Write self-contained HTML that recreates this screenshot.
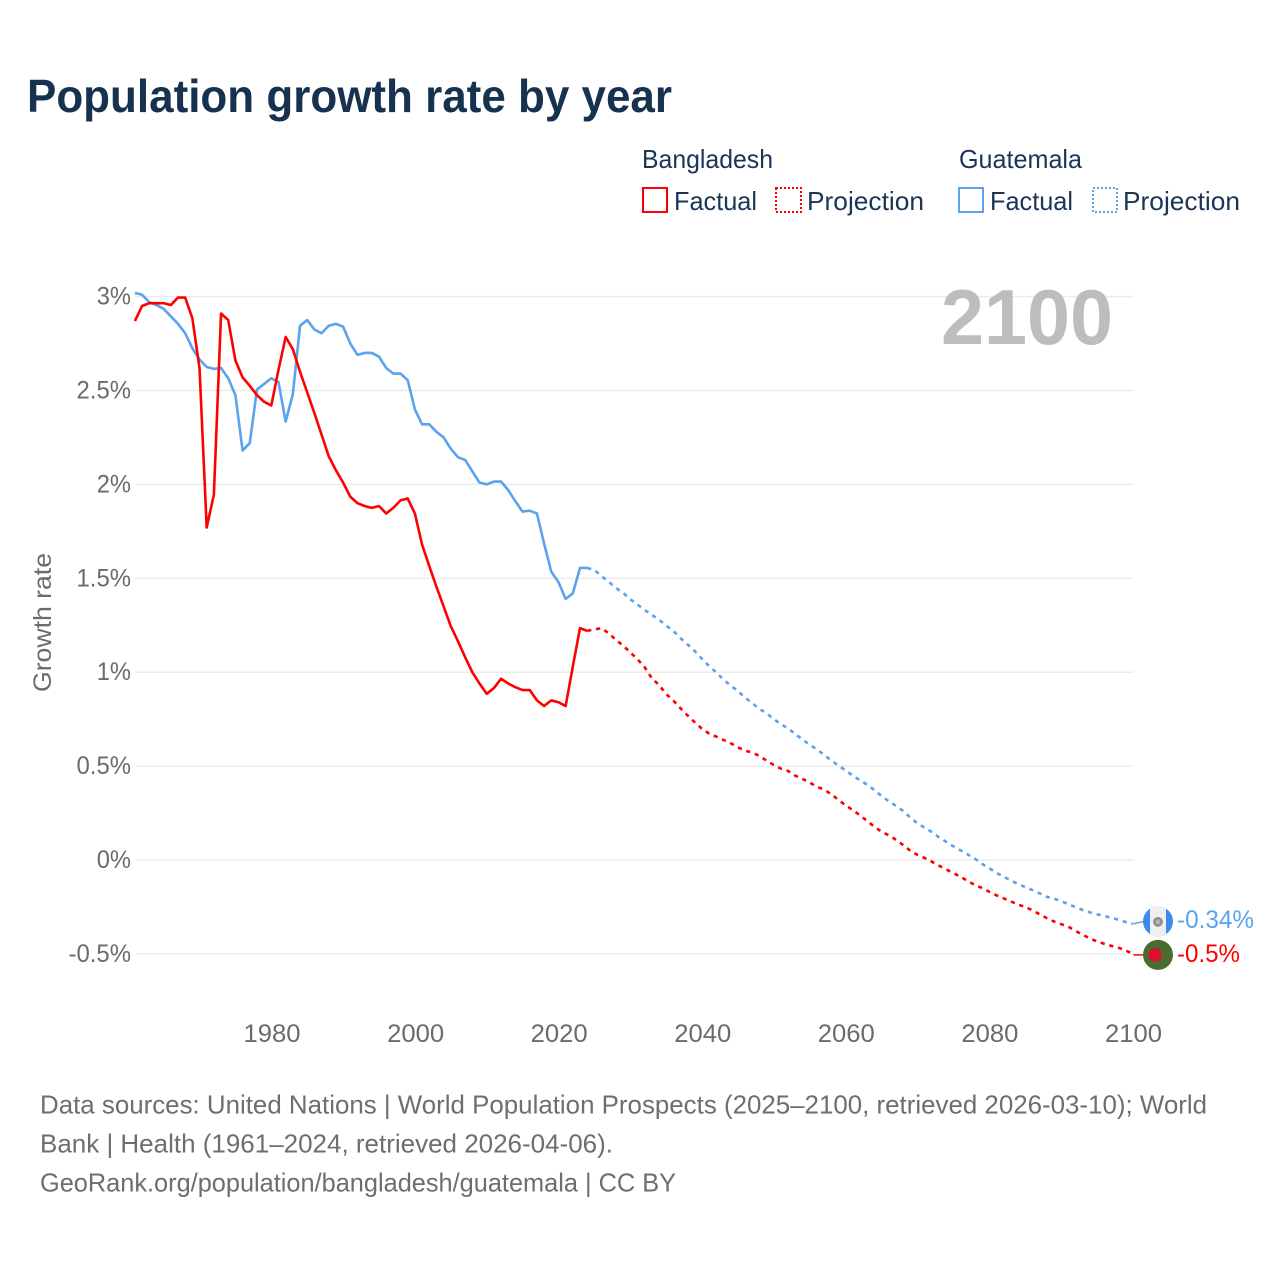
<!DOCTYPE html>
<html lang="en">
<head>
<meta charset="utf-8">
<title>Population growth rate by year</title>
<style>
html,body{margin:0;padding:0;background:#fff;}
svg{display:block;}
text{font-family:"Liberation Sans",sans-serif;}
</style>
</head>
<body>
<svg id="chart" width="1280" height="1280" viewBox="0 0 1280 1280" xmlns="http://www.w3.org/2000/svg">
  <rect x="0" y="0" width="1280" height="1280" fill="#ffffff"/>
  <text x="27" y="112" font-size="46" font-weight="700" fill="#17324f" textLength="645" lengthAdjust="spacingAndGlyphs">Population growth rate by year</text>

  <g font-size="26" fill="#1b3557">
    <text x="642" y="168" textLength="131" lengthAdjust="spacingAndGlyphs">Bangladesh</text>
    <text x="959" y="168" textLength="123" lengthAdjust="spacingAndGlyphs">Guatemala</text>
    <g>
      <rect x="643" y="188" width="24" height="24" fill="none" stroke="#ff0000" stroke-width="2"/>
      <text x="674" y="210" textLength="83" lengthAdjust="spacingAndGlyphs">Factual</text>
    </g>
    <g>
      <rect x="776" y="188" width="25" height="24" fill="none" stroke="#ff0000" stroke-width="2" stroke-dasharray="2 2"/>
      <text x="807" y="210" textLength="117" lengthAdjust="spacingAndGlyphs">Projection</text>
    </g>
    <g>
      <rect x="959" y="188" width="24" height="24" fill="none" stroke="#5ba3ee" stroke-width="2"/>
      <text x="990" y="210" textLength="83" lengthAdjust="spacingAndGlyphs">Factual</text>
    </g>
    <g>
      <rect x="1093" y="188" width="24" height="24" fill="none" stroke="#5ba3ee" stroke-width="2" stroke-dasharray="2 2"/>
      <text x="1123" y="210" textLength="117" lengthAdjust="spacingAndGlyphs">Projection</text>
    </g>
  </g>

  <g id="grid"></g>
  <g id="yTicksG"></g>
  <g id="xTicksG"></g>
  <text transform="translate(51,622.5) rotate(-90)" text-anchor="middle" font-size="25" fill="#6b6b6b" textLength="139" lengthAdjust="spacingAndGlyphs">Growth rate</text>
  <text x="941" y="344" font-size="78" font-weight="700" fill="#bdbdbd" textLength="172" lengthAdjust="spacingAndGlyphs">2100</text>
  <g id="series" transform="translate(-0.7,0)"></g>
  <g id="ends"></g>

  <g font-size="26" fill="#6e6e6e">
    <text x="40" y="1113.5" textLength="1167" lengthAdjust="spacingAndGlyphs">Data sources: United Nations | World Population Prospects (2025–2100, retrieved 2026-03-10); World</text>
    <text x="40" y="1152.5" textLength="573" lengthAdjust="spacingAndGlyphs">Bank | Health (1961–2024, retrieved 2026-04-06).</text>
    <text x="40" y="1191.5" textLength="636" lengthAdjust="spacingAndGlyphs">GeoRank.org/population/bangladesh/guatemala | CC BY</text>
  </g>
</svg>
<script>
const yTickValues = [3, 2.5, 2, 1.5, 1, 0.5, 0, -0.5];
const xTickValues = [1980, 2000, 2020, 2040, 2060, 2080, 2100];
const factualStartYear = 1961;
const projectionStartYear = 2025;
const bangladeshFactual = [2.87,2.95,2.965,2.965,2.965,2.955,2.995,2.995,2.885,2.62,1.77,1.945,2.91,2.875,2.66,2.57,2.525,2.475,2.44,2.42,2.61,2.785,2.72,2.6,2.49,2.38,2.265,2.15,2.075,2.01,1.935,1.9,1.885,1.875,1.885,1.845,1.875,1.915,1.925,1.845,1.68,1.565,1.455,1.35,1.245,1.165,1.08,1.0,0.94,0.885,0.915,0.965,0.94,0.92,0.905,0.905,0.85,0.82,0.85,0.84,0.82,1.03,1.235,1.22];
const guatemalaFactual = [3.02,3.01,2.97,2.955,2.935,2.895,2.855,2.805,2.725,2.665,2.625,2.615,2.62,2.565,2.475,2.18,2.22,2.505,2.535,2.565,2.545,2.335,2.48,2.845,2.875,2.825,2.805,2.845,2.855,2.84,2.75,2.69,2.7,2.7,2.68,2.62,2.59,2.59,2.555,2.4,2.32,2.32,2.28,2.25,2.19,2.145,2.13,2.07,2.01,2.0,2.015,2.015,1.97,1.91,1.855,1.86,1.845,1.685,1.535,1.48,1.39,1.42,1.555,1.555];
const bangladeshProjection = [1.228,1.234,1.208,1.172,1.142,1.106,1.069,1.027,0.968,0.932,0.884,0.849,0.808,0.769,0.733,0.698,0.673,0.657,0.639,0.622,0.6,0.582,0.572,0.554,0.529,0.506,0.486,0.474,0.449,0.432,0.412,0.391,0.375,0.35,0.32,0.291,0.266,0.238,0.208,0.177,0.151,0.132,0.108,0.08,0.05,0.027,0.011,-0.009,-0.03,-0.05,-0.069,-0.089,-0.112,-0.133,-0.149,-0.169,-0.188,-0.204,-0.22,-0.238,-0.249,-0.268,-0.288,-0.309,-0.327,-0.341,-0.355,-0.377,-0.398,-0.417,-0.433,-0.446,-0.457,-0.467,-0.481,-0.5];
const guatemalaProjection = [1.545,1.511,1.481,1.449,1.422,1.389,1.36,1.332,1.305,1.28,1.248,1.22,1.181,1.147,1.112,1.071,1.032,0.998,0.96,0.929,0.899,0.865,0.835,0.804,0.781,0.75,0.723,0.7,0.671,0.641,0.613,0.59,0.559,0.531,0.502,0.478,0.449,0.425,0.401,0.373,0.341,0.313,0.289,0.261,0.227,0.195,0.172,0.149,0.121,0.097,0.073,0.052,0.03,0.007,-0.02,-0.044,-0.068,-0.089,-0.108,-0.128,-0.144,-0.16,-0.177,-0.196,-0.206,-0.218,-0.236,-0.25,-0.266,-0.278,-0.289,-0.298,-0.307,-0.318,-0.33,-0.34];
const endLabels = ["-0.5%", "-0.34%"];

const SVGNS = "http://www.w3.org/2000/svg";
const RED = "#ff0000";
const BLUE = "#5ba3ee";
function xScale(year) { return 272 + (year - 1980) * 7.179; }
function yScale(v) { return 860 - v * 187.8; }
function make(tag, parent) {
  const el = document.createElementNS(SVGNS, tag);
  parent.appendChild(el);
  return el;
}
function labelWidth(s) {
  let w = 0;
  for (const c of s) { w += c === "%" ? 20 : c === "." ? 6 : c === "-" ? 8 : 14.25; }
  return w;
}
function pathFrom(startYear, values, prefix) {
  let d = prefix;
  values.forEach(function (v, i) {
    d += (d === "" ? "M" : "L") + xScale(startYear + i).toFixed(2) + " " + yScale(v).toFixed(2);
  });
  return d;
}

const gridG = document.getElementById("grid");
const yG = document.getElementById("yTicksG");
const xG = document.getElementById("xTicksG");
yTickValues.forEach(function (v) {
  const line = make("line", gridG);
  
  
  line.setAttribute("x1", xScale(1961));
  line.setAttribute("x2", xScale(2100));
  line.setAttribute("y1", yScale(v));
  line.setAttribute("y2", yScale(v));
  line.setAttribute("stroke", "#ececec");
  line.setAttribute("stroke-width", "1.5");
  const t = make("text", yG);
  
  
  const s = v + "%";
  t.textContent = s;
  t.setAttribute("x", 131);
  t.setAttribute("y", yScale(v) + 8);
  t.setAttribute("text-anchor", "end");
  t.setAttribute("font-size", "25");
  t.setAttribute("fill", "#6b6b6b");
  t.setAttribute("textLength", labelWidth(s));
  t.setAttribute("lengthAdjust", "spacingAndGlyphs");
});
xTickValues.forEach(function (yr) {
  const t = make("text", xG);
  
  
  const s = String(yr);
  t.textContent = s;
  t.setAttribute("x", xScale(yr));
  t.setAttribute("y", 1042);
  t.setAttribute("text-anchor", "middle");
  t.setAttribute("font-size", "25");
  t.setAttribute("fill", "#6b6b6b");
  t.setAttribute("textLength", labelWidth(s));
  t.setAttribute("lengthAdjust", "spacingAndGlyphs");
});

const seriesG = document.getElementById("series");
function lineStyle(p, color) {
  p.setAttribute("fill", "none");
  p.setAttribute("stroke", color);
  p.setAttribute("stroke-width", "2.6");
  p.setAttribute("stroke-linejoin", "round");
}
function connect(values) {
  const last = values[values.length - 1];
  return "M" + xScale(projectionStartYear - 1).toFixed(2) + " " + yScale(last).toFixed(2);
}

const gf = make("path", seriesG);


gf.setAttribute("d", pathFrom(factualStartYear, guatemalaFactual, ""));
lineStyle(gf, BLUE);

const gp = make("path", seriesG);


gp.setAttribute("d", pathFrom(projectionStartYear, guatemalaProjection, connect(guatemalaFactual)));
lineStyle(gp, BLUE);
gp.setAttribute("stroke-dasharray", "4.2 4.8");

const bf = make("path", seriesG);


bf.setAttribute("d", pathFrom(factualStartYear, bangladeshFactual, ""));
lineStyle(bf, RED);

const bp = make("path", seriesG);


bp.setAttribute("d", pathFrom(projectionStartYear, bangladeshProjection, connect(bangladeshFactual)));
lineStyle(bp, RED);
bp.setAttribute("stroke-dasharray", "4.2 4.8");

const endsG = document.getElementById("ends");
const xEnd = xScale(2100);
const flagX = 1158;

/* Guatemala end marker */
const gLast = guatemalaProjection[guatemalaProjection.length - 1];
const gY = yScale(gLast) - 2.5;
const gLead = make("line", endsG);


gLead.setAttribute("x1", xEnd);
gLead.setAttribute("y1", yScale(gLast));
gLead.setAttribute("x2", flagX - 14);
gLead.setAttribute("y2", gY);
gLead.setAttribute("stroke", BLUE);
gLead.setAttribute("stroke-width", "1.5");

const gFlag = make("g", endsG);


gFlag.setAttribute("transform", "translate(" + flagX + "," + gY + ")");
const gBase = make("circle", gFlag);


gBase.setAttribute("r", "15");
gBase.setAttribute("fill", "#3b8bec");
const gWhite = make("path", gFlag);


gWhite.setAttribute("d", "M-8 -12.7A15 15 0 0 1 8 -12.7V12.7A15 15 0 0 1 -8 12.7Z");
gWhite.setAttribute("fill", "#efefef");
const gEmblem = make("circle", gFlag);


gEmblem.setAttribute("r", "3.6");
gEmblem.setAttribute("cy", "0.5");
gEmblem.setAttribute("fill", "#b5b5b5");
gEmblem.setAttribute("stroke", "#8f8f8f");
gEmblem.setAttribute("stroke-width", "2.6");

const gText = make("text", endsG);


gText.textContent = endLabels[1];
gText.setAttribute("x", 1177);
gText.setAttribute("y", gY + 6.5);
gText.setAttribute("font-size", "25");
gText.setAttribute("fill", BLUE);
gText.setAttribute("textLength", "77");
gText.setAttribute("lengthAdjust", "spacingAndGlyphs");

/* Bangladesh end marker */
const bLast = bangladeshProjection[bangladeshProjection.length - 1];
const bY = yScale(bLast) + 1;
const bLead = make("line", endsG);


bLead.setAttribute("x1", xEnd);
bLead.setAttribute("y1", bY);
bLead.setAttribute("x2", flagX - 14);
bLead.setAttribute("y2", bY);
bLead.setAttribute("stroke", RED);
bLead.setAttribute("stroke-width", "1.5");

const bFlag = make("g", endsG);


bFlag.setAttribute("transform", "translate(" + flagX + "," + bY + ")");
const bBase = make("circle", bFlag);


bBase.setAttribute("r", "15");
bBase.setAttribute("fill", "#4c6b2f");
const bDisc = make("circle", bFlag);


bDisc.setAttribute("cx", "-3");
bDisc.setAttribute("r", "6.8");
bDisc.setAttribute("fill", "#d9112f");

const bText = make("text", endsG);


bText.textContent = endLabels[0];
bText.setAttribute("x", 1177);
bText.setAttribute("y", bY + 7);
bText.setAttribute("font-size", "25");
bText.setAttribute("fill", RED);
bText.setAttribute("textLength", "63");
bText.setAttribute("lengthAdjust", "spacingAndGlyphs");
</script>
</body>
</html>
